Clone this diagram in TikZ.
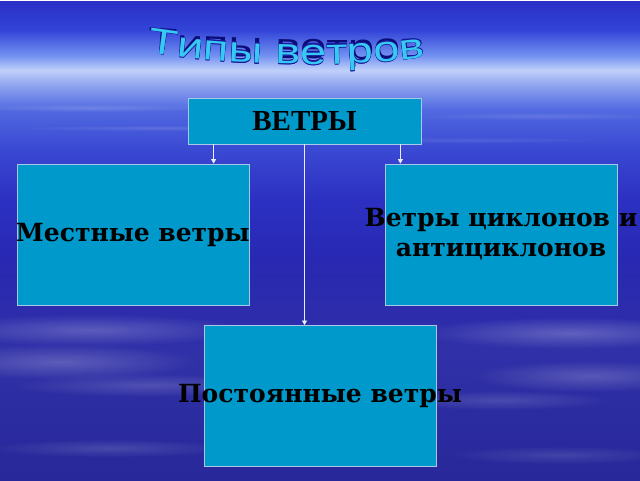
\documentclass[tikz,border=0pt]{standalone}
\usepackage{fontspec}
\usetikzlibrary{positioning, arrows.meta, decorations.text, fadings}
\newfontfamily\boxfont{DejaVu Serif}
\newfontfamily\rootfont{Liberation Serif}
\newfontfamily\titlefont[FakeStretch=1.31]{Liberation Sans}
\newcommand\titlestyle{\titlefont\fontsize{36}{36}\selectfont}
\definecolor{boxblue}{HTML}{0099CC}
\definecolor{boxedge}{HTML}{A8C8E8}
\definecolor{titlecyan}{HTML}{36CAF2}
\definecolor{titleedge}{HTML}{1818A0}
\definecolor{titleshadow}{HTML}{0C0C78}
\definecolor{linkwhite}{HTML}{E8EEFF}
\definecolor{skyA}{HTML}{28289A}
\definecolor{skyB}{HTML}{3030A8}
\definecolor{skyC}{HTML}{2828B2}
\definecolor{skyD}{HTML}{2C30C2}
\definecolor{skyE}{HTML}{3A48D2}
\definecolor{skyF}{HTML}{5068E0}
\definecolor{skyG}{HTML}{8EA4F0}
\definecolor{skyH}{HTML}{C0D0FA}
\definecolor{skyI}{HTML}{7090F0}
\definecolor{skyJ}{HTML}{3344D8}
\definecolor{skyK}{HTML}{2A2EC4}
\pgfdeclareverticalshading{sky}{640pt}{%
  color(0pt)=(skyA); color(130pt)=(skyB); color(220pt)=(skyC);
  color(280pt)=(skyD); color(330pt)=(skyE); color(370pt)=(skyF);
  color(395pt)=(skyG); color(410pt)=(skyH); color(425pt)=(skyI);
  color(450pt)=(skyJ); color(480pt)=(skyK)}
\tikzfading[name=softedge, inner color=transparent!0, outer color=transparent!100]
\tikzset{windbox/.style={draw=boxedge, line width=0.8pt, fill=boxblue, inner sep=0pt,
                         minimum width=232pt, minimum height=141pt, align=center,
                         font=\boxfont\bfseries\fontsize{25}{30}\selectfont},
         rootbox/.style={windbox, minimum width=233pt, minimum height=46pt,
                         font=\rootfont\bfseries\fontsize{29}{30}\selectfont},
         link/.style={draw=linkwhite, line width=0.7pt, -{Triangle[width=5pt,length=4.5pt]}},
         streak/.style={fill=white, path fading=softedge},
        }

\begin{document}
\begin{tikzpicture}[x=1pt,y=-1pt]
        \useasboundingbox (0,0) rectangle (640,480);
        \node[inner sep=0pt, anchor=north west](bg)at(0,0){\pgfuseshading{sky}};

        % streaks of the sky
        \fill[streak, opacity=.15](90,108) ellipse [x radius=120, y radius=4];
        \fill[streak, opacity=.12](160,128) ellipse [x radius=150, y radius=3];
        \fill[streak, opacity=.12](540,116) ellipse [x radius=130, y radius=4];
        \fill[streak, opacity=.10](470,140) ellipse [x radius=140, y radius=3];
        \fill[streak, opacity=.22](90,330) ellipse [x radius=160, y radius=16];
        \fill[streak, opacity=.22](60,362) ellipse [x radius=140, y radius=18];
        \fill[streak, opacity=.16](150,385) ellipse [x radius=140, y radius=12];
        \fill[streak, opacity=.24](570,333) ellipse [x radius=150, y radius=16];
        \fill[streak, opacity=.20](590,376) ellipse [x radius=120, y radius=16];
        \fill[streak, opacity=.14](500,400) ellipse [x radius=110, y radius=10];
        \fill[streak, opacity=.14](110,448) ellipse [x radius=120, y radius=9];
        \fill[streak, opacity=.12](560,455) ellipse [x radius=110, y radius=9];

        % title
        \coordinate(tl)at(145,52);
        \coordinate(tr)at(428,57);
        \path[decorate, shift={(7,-7)}, decoration={text along path, text={|\titlestyle|Типы ветров},
              text color=titleshadow, text align=center}](tl) .. controls (230,66) and (350,68) .. (tr);
        \foreach \dx/\dy in {1.7/0,-1.7/0,0/1.7,0/-1.7,1.2/1.2,-1.2/1.2,1.2/-1.2,-1.2/-1.2}
          \path[decorate, shift={(\dx,\dy)}, decoration={text along path, text={|\titlestyle|Типы ветров},
                text color=titleedge, text align=center}](tl) .. controls (230,66) and (350,68) .. (tr);
        \path[decorate, decoration={text along path, text={|\titlestyle|Типы ветров},
              text color=titlecyan, text align=center}](tl) .. controls (230,66) and (350,68) .. (tr);

        % boxes
        \node[rootbox](root)at(304.5,121){ВЕТРЫ};
        \node[windbox](local)at(133,234.5){\makebox[0pt]{Местные ветры}};
        \node[windbox](cyclone)at(501,234.5){\makebox[0pt]{Ветры циклонов и}\\\makebox[0pt]{антициклонов}};
        \node[windbox](perm)at(320,396){\makebox[0pt]{Постоянные ветры}};

        \draw[link]([xshift=26pt]root.south west)--([xshift=26pt]root.south west |- local.north);
        \draw[link]([xshift=-21pt]root.south east)--([xshift=-21pt]root.south east |- cyclone.north);
        \draw[link](root.south)--(root.south |- perm.north);
    \end{tikzpicture}
\end{document}
